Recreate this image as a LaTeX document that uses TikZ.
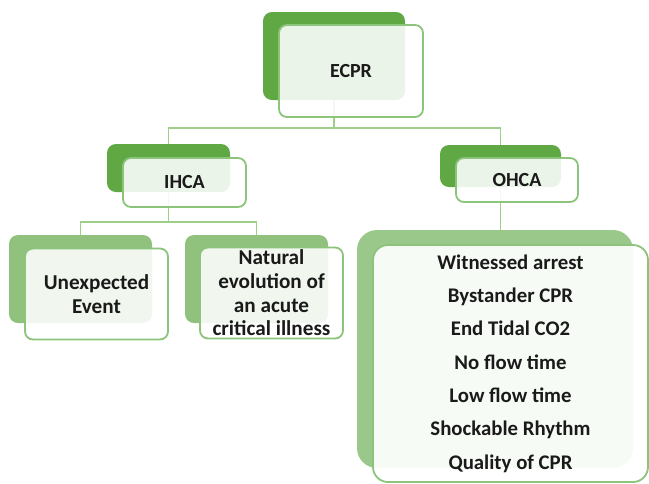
\documentclass[tikz,border=0pt]{standalone}
\usepackage{fontspec}
\setmainfont{Carlito}
\definecolor{darkback}{HTML}{5FA843}
\definecolor{lightback}{HTML}{90C27D}
\definecolor{bigback}{HTML}{9AC88A}
\definecolor{frontborder}{HTML}{8CC47B}
\definecolor{conn}{HTML}{9DCF88}
\definecolor{txt}{HTML}{1A1A1A}
\begin{document}
\begin{tikzpicture}[x=1pt,y=-1pt,
  backbox/.style={draw=none, rounded corners=9pt, inner sep=0pt, outer sep=0pt},
  frontbox/.style={draw=frontborder, line width=1.8pt, fill=white, fill opacity=0.88, text opacity=1,
     rounded corners=8pt, inner sep=0pt, outer sep=0pt, align=center, text=txt,
     font=\bfseries\fontsize{20}{24}\selectfont},
  connector/.style={draw=conn, line width=1.7pt}]
\useasboundingbox (0,0) rectangle (649,483);
\fill[white] (0,0) rectangle (649,483);
% back boxes
\node[backbox, fill=darkback, minimum width=142pt, minimum height=88pt] (ecprB) at (334,56) {};
\node[backbox, fill=darkback, minimum width=123pt, minimum height=48pt] (ihcaB) at (168.5,168) {};
\node[backbox, fill=darkback, minimum width=121pt, minimum height=42pt] (ohcaB) at (500.5,166) {};
\node[backbox, fill=lightback, minimum width=143pt, minimum height=88pt] (unexB) at (80.5,279) {};
\node[backbox, fill=lightback, minimum width=143pt, minimum height=88pt] (natB) at (256.5,279) {};
\node[backbox, fill=bigback, rounded corners=20pt, minimum width=276pt, minimum height=238pt] (bigB) at (495,349) {};
% connectors
\coordinate (j1) at (334,128);
\coordinate (j2) at (168.5,222);
\draw[connector] (ecprB.south) -- (j1);
\draw[connector] (ihcaB.north) |- (j1) -| (ohcaB.north);
\draw[connector] (ihcaB.south) -- (j2);
\draw[connector] (unexB.north) |- (j2) -| (natB.north);
\draw[connector] (ohcaB.south) -- (ohcaB.south |- bigB.north);
% front boxes
\node[frontbox, minimum width=144pt, minimum height=92pt] (ecpr) at (351,71) {ECPR};
\node[frontbox, minimum width=123pt, minimum height=49pt] (ihca) at (184.5,182.5) {IHCA};
\node[frontbox, minimum width=122pt, minimum height=44pt] (ohca) at (517,180) {OHCA};
\node[frontbox, minimum width=143pt, minimum height=91pt, font=\bfseries\fontsize{21.2}{24.5}\selectfont] (unex) at (96.5,294) {Unexpected\\Event};
\node[frontbox, minimum width=143pt, minimum height=91pt, font=\bfseries\fontsize{21.2}{23.7}\selectfont] (nat) at (271.5,293) {Natural\\evolution of\\an acute\\critical illness};
\node[frontbox, rounded corners=15pt, minimum width=275pt, minimum height=237pt, fill opacity=0.93,
  font=\bfseries\fontsize{20.8}{33.3}\selectfont] (big) at (510.5,363.5)
  {Witnessed arrest\\Bystander CPR\\End Tidal CO2\\No flow time\\Low flow time\\Shockable Rhythm\\Quality of CPR};
\end{tikzpicture}
\end{document}
